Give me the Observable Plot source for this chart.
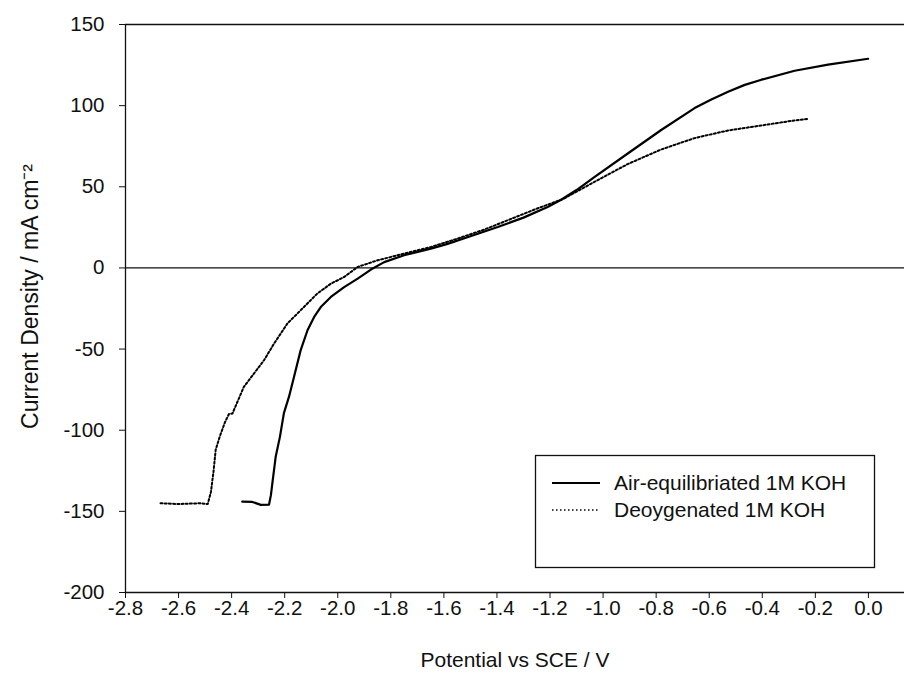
<!DOCTYPE html>
<html>
<head>
<meta charset="utf-8">
<script src="https://cdn.jsdelivr.net/npm/d3@7"></script>
<script src="https://cdn.jsdelivr.net/npm/@observablehq/plot@0.6"></script>
<style>
  html, body { margin: 0; padding: 0; background: #fff; }
  #chart { width: 904px; height: 682px; }
</style>
</head>
<body>
<div id="chart"></div>
<script>
// ---- data ----
const seriesNames = ["Air-equilibriated 1M KOH", "Deoygenated 1M KOH"];

// Air-equilibriated 1M KOH: potential (V vs SCE) and current density (mA cm^-2)
const airPotential = [-2.360, -2.322, -2.290, -2.259, -2.252, -2.246, -2.234, -2.218, -2.203, -2.184, -2.165, -2.140, -2.114, -2.089, -2.064, -2.026, -1.976, -1.925, -1.875, -1.825, -1.750, -1.649, -1.586, -1.500, -1.397, -1.300, -1.209, -1.158, -1.100, -1.033, -0.907, -0.781, -0.655, -0.592, -0.529, -0.466, -0.403, -0.278, -0.152, -0.001];
const airCurrent   = [-144.0, -144.2, -146.0, -145.8, -140.0, -132.0, -116.4, -104.1, -89.5, -79.5, -67.2, -50.8, -38.4, -30.2, -24.1, -17.9, -11.8, -6.6, -1.0, 3.6, 7.8, 11.9, 14.8, 19.5, 25.2, 31.0, 37.5, 42.0, 48.0, 56.0, 70.5, 85.0, 98.5, 103.8, 108.6, 112.8, 116.0, 121.5, 125.3, 128.9];

// Deoygenated 1M KOH
const deoxPotential = [-2.668, -2.600, -2.520, -2.490, -2.478, -2.468, -2.460, -2.445, -2.425, -2.410, -2.397, -2.354, -2.316, -2.278, -2.240, -2.190, -2.140, -2.077, -2.026, -1.976, -1.925, -1.850, -1.750, -1.649, -1.550, -1.450, -1.350, -1.250, -1.150, -1.033, -0.907, -0.781, -0.655, -0.529, -0.403, -0.278, -0.228];
const deoxCurrent   = [-145.0, -145.5, -145.0, -145.5, -138.0, -125.0, -112.0, -104.0, -95.0, -90.0, -89.7, -73.3, -65.1, -56.9, -46.6, -34.3, -26.1, -15.8, -9.7, -5.6, 0.6, 4.7, 8.8, 12.9, 18.0, 23.5, 30.0, 36.5, 42.5, 53.0, 64.0, 73.0, 80.0, 84.7, 87.8, 90.9, 91.9];

const xTicks = [-2.8, -2.6, -2.4, -2.2, -2.0, -1.8, -1.6, -1.4, -1.2, -1.0, -0.8, -0.6, -0.4, -0.2, 0.0];
const xTickLabels = ["-2.8", "-2.6", "-2.4", "-2.2", "-2.0", "-1.8", "-1.6", "-1.4", "-1.2", "-1.0", "-0.8", "-0.6", "-0.4", "-0.2", "0.0"];
const yTicks = [-200, -150, -100, -50, 0, 50, 100, 150];
const yTickLabels = ["-200", "-150", "-100", "-50", "0", "50", "100", "150"];
const xTitle = "Potential vs SCE / V";
const yTitle = "Current Density / mA cm⁻²";

// ---- tables built from the arrays ----
const air = airPotential.map((v, i) => ({v, j: airCurrent[i]}));
const deox = deoxPotential.map((v, i) => ({v, j: deoxCurrent[i]}));

const FONT = "'Liberation Sans', Arial, Helvetica, sans-serif";
const INK = "#111";
const DOTS = "2,2.2";

const chart = Plot.plot({
  width: 904,
  height: 682,
  marginLeft: 125,
  marginRight: 0,
  marginTop: 24,
  marginBottom: 90,
  style: {fontFamily: FONT, fontSize: "20px", color: INK, background: "#fff"},
  x: {domain: [-2.8, 0.136]},
  y: {domain: [-200, 150]},
  marks: [
    Plot.axisX({ticks: xTicks, tickFormat: d => xTickLabels[xTicks.indexOf(d)], tickSize: 6, tickPadding: 2, label: null, fontSize: 20.5, stroke: INK}),
    Plot.axisY({ticks: yTicks, tickFormat: d => yTickLabels[yTicks.indexOf(d)], tickSize: 6, tickPadding: 15, label: null, fontSize: 20.5, stroke: INK}),
    Plot.ruleY([150], {stroke: INK, strokeWidth: 1.3}),
    Plot.ruleY([0], {stroke: INK, strokeWidth: 1.3}),
    Plot.ruleY([-200], {stroke: INK, strokeWidth: 1.3}),
    Plot.ruleX([-2.8], {stroke: INK, strokeWidth: 1.3}),
    Plot.line(deox, {x: "v", y: "j", stroke: "#000", strokeWidth: 2, strokeDasharray: DOTS, curve: "linear"}),
    Plot.line(air, {x: "v", y: "j", stroke: "#000", strokeWidth: 2.2, curve: "linear"}),
    Plot.text([xTitle], {frameAnchor: "bottom", dy: 68, lineAnchor: "middle", textAnchor: "middle", fontSize: 21, fill: INK}),
    Plot.text([yTitle], {frameAnchor: "left", dx: -95, dy: -12, rotate: -90, textAnchor: "middle", lineAnchor: "middle", fontSize: 23, fill: INK})
  ]
});

// legend (pixel layout inside the svg)
const svg = d3.select(chart);
const lg = svg.append("g").attr("font-family", FONT).attr("font-size", 21).attr("fill", INK).attr("text-anchor", "start");
lg.append("rect").attr("x", 535.5).attr("y", 455.5).attr("width", 339).attr("height", 112)
  .attr("fill", "#fff").attr("stroke", INK).attr("stroke-width", 1.3);
const styles = [{dash: null, w: 2}, {dash: "1.5,2.5", w: 1.4}];
seriesNames.forEach((name, i) => {
  const y = 483 + i * 27;
  const ln = lg.append("line").attr("x1", 552).attr("x2", 600).attr("y1", y).attr("y2", y)
    .attr("stroke", "#000").attr("stroke-width", styles[i].w);
  if (styles[i].dash) ln.attr("stroke-dasharray", styles[i].dash);
  lg.append("text").attr("x", 614).attr("y", y + 7).attr("text-anchor", "start").text(name);
});

document.getElementById("chart").appendChild(chart);
</script>
</body>
</html>
